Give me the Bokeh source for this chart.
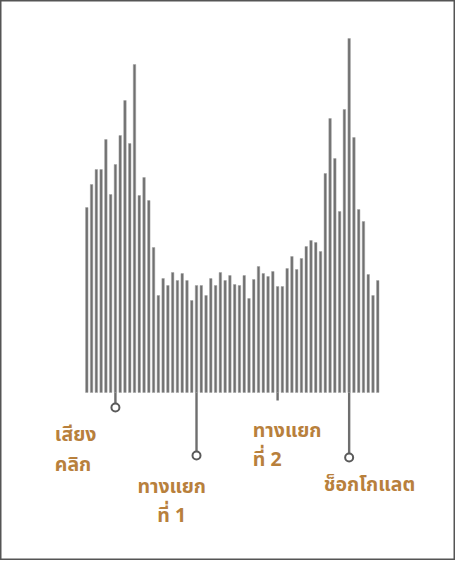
from bokeh.plotting import figure
from bokeh.models import ColumnDataSource, Range1d
from bokeh.core.properties import value
from bokeh.embed import file_html
from bokeh.resources import INLINE

# bar heights (arbitrary units, baseline = 0)
heights = [185, 208, 223, 223, 253, 198, 228, 257, 292, 249,
           328, 197, 215, 192, 145, 97, 114, 107, 120, 112,
           119, 112, 92, 107, 107, 97, 114, 107, 120, 112,
           117, 108, 107, 117, 94, 113, 126, 119, 116, 121,
           106, 106, 124, 136, 123, 134, 146, 152, 150, 141,
           219, 274, 234, 181, 283, 354, 255, 183, 171, 118,
           97, 112]
idx = list(range(1, len(heights) + 1))

# marker stems below the baseline
stem_idx = [7, 24, 41, 56]
stem_depth = [-15, -63, -8, -65]
dot_idx = [7, 24, 56]
dot_depth = [-15, -63, -65]

# labels
label_lines = ["เสียง", "คลิก", "ทางแยก", "ที่ 1", "ทางแยก", "ที่ 2", "ช็อกโกแลต"]
label_x = [-5.7, -5.7, 18.8, 18.8, 35.8, 35.8, 50.7]
label_y = [-42, -72, -94, -123, -38, -67, -92]
label_align = ["left", "left", "center", "center", "left", "left", "left"]

W, H = 455, 560
px_per_unit = 4.77
x_start = 1 - (94.3 - 8) / px_per_unit
p = figure(width=W, height=H, output_backend="svg", toolbar_location=None,
           x_range=Range1d(x_start, x_start + W / px_per_unit),
           y_range=Range1d(392 - H, 392), min_border=0)
p.axis.visible = False
p.grid.visible = False
p.outline_line_color = "#555555"
p.outline_line_width = 2
p.background_fill_color = "white"

src = ColumnDataSource(dict(x=idx, top=heights))
p.vbar(x="x", top="top", bottom=0, width=0.52, source=src,
       fill_color="#707070", line_color="#a0a0a0", line_width=0.5)

p.segment(x0=stem_idx, y0=[0] * len(stem_idx), x1=stem_idx, y1=stem_depth,
          line_color="#6e6e6e", line_width=2.4)
p.scatter(x=dot_idx, y=dot_depth, size=8, marker="circle",
          fill_color="white", line_color="#5a5a5a", line_width=2)

lsrc = ColumnDataSource(dict(x=label_x, y=label_y, t=label_lines, a=label_align))
p.text(x="x", y="y", text="t", text_align="a", source=lsrc,
       text_baseline="middle", text_font=value("Noto Sans Thai, Noto Sans"),
       text_font_size="19.5px", text_font_style="bold", text_color="#b8803c")

open("out.html", "w").write(file_html(p, INLINE))
